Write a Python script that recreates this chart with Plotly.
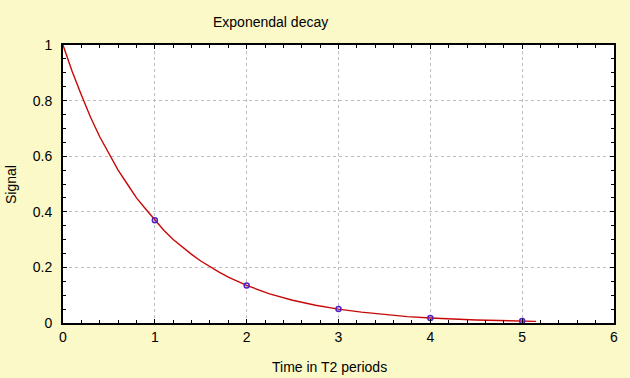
import plotly.graph_objects as go

# Curve values
curve_x = [0, 0.1, 0.2, 0.3, 0.4, 0.5, 0.6, 0.7, 0.8, 0.9, 1.0, 1.1, 1.2, 1.3,
           1.4, 1.5, 1.6, 1.7, 1.8, 1.9, 2.0, 2.25, 2.5, 2.75, 3.0,
           3.25, 3.5, 3.75, 4.0, 4.25, 4.5, 4.75, 5.0, 5.15]
curve_y = [1.0, 0.905, 0.82, 0.74, 0.67, 0.61, 0.55, 0.50, 0.45, 0.41, 0.37,
           0.333, 0.30, 0.272, 0.247, 0.223, 0.202, 0.183, 0.165, 0.15, 0.135,
           0.105, 0.082, 0.064, 0.05, 0.039, 0.03, 0.023, 0.018, 0.014, 0.011,
           0.009, 0.007, 0.006]

# Sampled points (markers)
point_x = [1, 2, 3, 4, 5]
point_y = [0.37, 0.135, 0.05, 0.018, 0.007]

x_ticks = [0, 1, 2, 3, 4, 5, 6]
y_ticks = [0, 0.2, 0.4, 0.6, 0.8, 1]
y_tick_labels = ["0", "0.2", "0.4", "0.6", "0.8", "1"]

fig = go.Figure()
fig.add_trace(go.Scatter(x=curve_x, y=curve_y, mode="lines",
                         line=dict(color="#C80808", width=1.4),
                         hoverinfo="skip"))
fig.add_trace(go.Scatter(x=point_x, y=point_y, mode="markers",
                         marker=dict(symbol="circle-open", size=5,
                                     color="#5020C8", line=dict(width=1.5))))

axis_font = dict(family="Liberation Sans, Arial", size=14, color="black")

fig.update_layout(
    width=630, height=378,
    paper_bgcolor="#FBF9C8",
    plot_bgcolor="white",
    showlegend=False,
    margin=dict(l=63, r=14, t=45, b=55),
    font=axis_font,
)
fig.update_xaxes(
    range=[0, 6], tickvals=x_ticks, showgrid=True,
    gridcolor="#BEBEBE", griddash="dot", gridwidth=1,
    showline=True, linecolor="black", linewidth=2, mirror="ticks",
    ticks="inside", ticklen=4, tickcolor="black",
    minor=dict(ticks="inside", dtick=0.2, ticklen=3, tickcolor="black", showgrid=False),
    zeroline=False, tickfont=axis_font,
)
fig.update_yaxes(
    range=[0, 1], tickvals=y_ticks, ticktext=y_tick_labels, showgrid=True,
    gridcolor="#BEBEBE", griddash="dot", gridwidth=1,
    showline=True, linecolor="black", linewidth=2, mirror="ticks",
    ticks="inside", ticklen=4, tickcolor="black",
    minor=dict(ticks="inside", dtick=0.05, ticklen=3, tickcolor="black", showgrid=False),
    zeroline=False, tickfont=axis_font, ticklabelstandoff=6,
)

fig.add_annotation(text="Exponendal decay", xref="paper", yref="paper",
                   x=(271 - 63) / (630 - 63 - 14), y=1, yanchor="middle", xanchor="center",
                   yshift=23, showarrow=False,
                   font=dict(family="Liberation Sans, Arial", size=14, color="black"))
fig.add_annotation(text="Time in T2 periods", xref="paper", yref="paper",
                   x=(330 - 63) / (630 - 63 - 14), y=0, yanchor="middle", xanchor="center",
                   yshift=-44, showarrow=False,
                   font=dict(family="Liberation Sans, Arial", size=14, color="black"))
fig.add_annotation(text="Signal", xref="paper", yref="paper", textangle=-90,
                   x=0, xanchor="center", yanchor="middle", xshift=-52,
                   y=(323 - 185) / (323 - 45), showarrow=False,
                   font=dict(family="Liberation Sans, Arial", size=14, color="black"))

fig.write_html("out.html", config={"displayModeBar": False})

# remove default page margin so the figure sits at the window's top-left corner
with open("out.html", encoding="utf-8") as f:
    html = f.read()
html = html.replace("<head>", "<head><style>html,body{margin:0;padding:0;overflow:hidden;}</style>", 1)
with open("out.html", "w", encoding="utf-8") as f:
    f.write(html)
